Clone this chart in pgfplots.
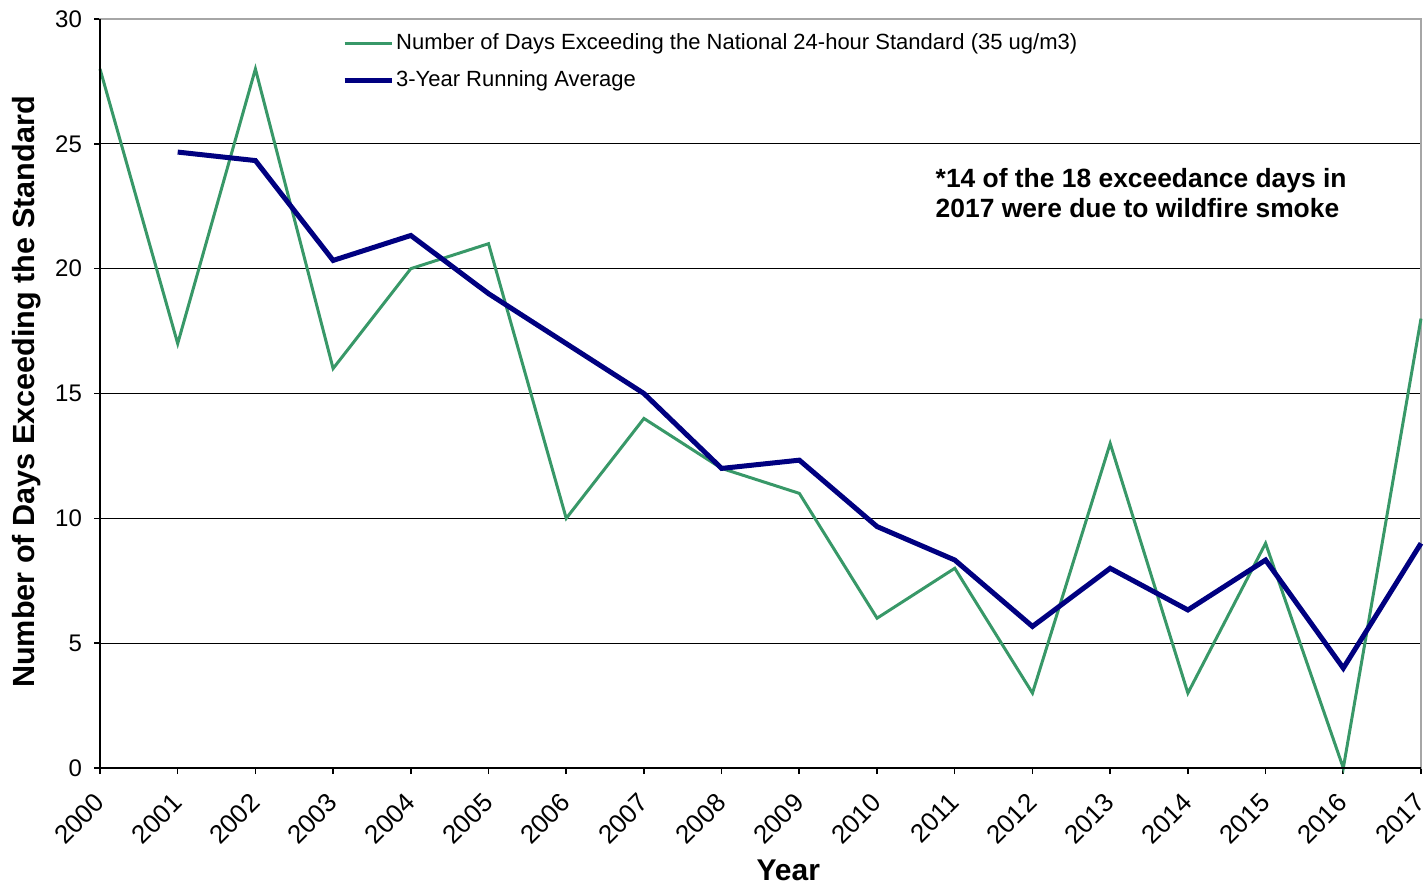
\documentclass[border=0pt]{standalone}
\usepackage{pgfplots}
\pgfplotsset{compat=1.18}
\usepackage{fontspec}
\setmainfont{Liberation Sans}
\definecolor{exgreen}{RGB}{56,152,104}
\definecolor{avgnavy}{RGB}{0,0,128}
\begin{document}
\begin{tikzpicture}
\begin{axis}[
  width=660.5pt, height=374.5pt, scale only axis,
  xmin=2000, xmax=2017, ymin=0, ymax=30,
  xtick={2000,...,2017}, ytick={0,5,...,30},
  xticklabel style={rotate=45, anchor=east, inner sep=0pt,
    font=\fontsize{13}{15}\selectfont},
  xticklabel shift=12pt,
  yticklabel style={font=\fontsize{12}{14}\selectfont, xshift=-2.5pt},
  /pgf/number format/assume math mode=true,
  /pgf/number format/1000 sep={},
  tick align=outside, xtick pos=bottom, ytick pos=left,
  major tick length=3pt,
  tick style={black, line width=0.8pt},
  ymajorgrids, grid style={black, line width=0.5pt},
  axis line style={gray!70, line width=0.8pt},
  xlabel={\bfseries Year},
  xlabel style={font=\fontsize{15}{17}\selectfont, at={(axis description cs:0.521,-0.136)}, anchor=center},
  ylabel={\bfseries Number of Days Exceeding the Standard},
  ylabel style={font=\fontsize{15.3}{17}\selectfont, at={(axis description cs:-0.0553,0.502)}, anchor=center, rotate=0},
  legend style={at={(0.183,0.986)}, anchor=north west, draw=none, fill=none,
    font=\fontsize{11}{13}\selectfont, row sep=5pt, inner sep=0pt,
    /tikz/every even column/.append style={column sep=0pt}},
  legend cell align=left,
  legend image code/.code={\draw[#1] (0cm,0cm) -- (23.5pt,0cm);},
  legend style={nodes={inner xsep=1pt}},
  clip=false,
]
\addplot[exgreen, line width=1.5pt] coordinates {
  (2000,28) (2001,17) (2002,28) (2003,16) (2004,20) (2005,21) (2006,10)
  (2007,14) (2008,12) (2009,11) (2010,6) (2011,8) (2012,3) (2013,13)
  (2014,3) (2015,9) (2016,0) (2017,18)
};
\addplot[avgnavy, line width=2.5pt] coordinates {
  (2001,24.67) (2002,24.33) (2003,20.33) (2004,21.33) (2005,19) (2006,17)
  (2007,15) (2008,12) (2009,12.33) (2010,9.67) (2011,8.33) (2012,5.67)
  (2013,8) (2014,6.33) (2015,8.33) (2016,4) (2017,9)
};
\legend{Number of Days Exceeding the National 24-hour Standard (35 ug/m3), 3-Year Running Average}
\draw[black, line width=0.8pt] (rel axis cs:0,1) -- (rel axis cs:0,0) -- (rel axis cs:1,0);
\node[anchor=north west, align=left, inner sep=0pt, font=\fontsize{13.2}{15}\selectfont\bfseries]
  at (axis cs:2010.75,24.03) {*14 of the 18 exceedance days in\\2017 were due to wildfire smoke};
\coordinate (sw) at (rel axis cs:0,0);
\coordinate (ne) at (rel axis cs:1,1);
\end{axis}
\pgfresetboundingbox
\path[use as bounding box] ([shift={(-50pt,-58pt)}]sw) rectangle ([shift={(1.5pt,9.5pt)}]ne);
\end{tikzpicture}
\end{document}
